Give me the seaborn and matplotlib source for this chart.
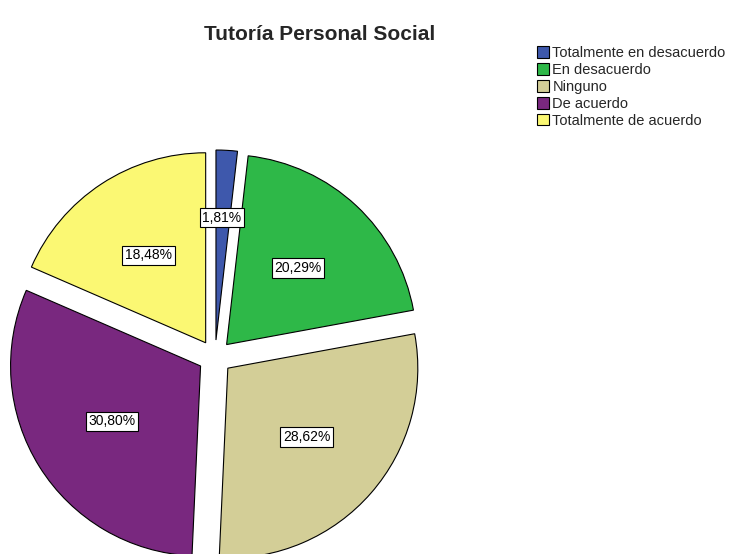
import matplotlib
matplotlib.use('Agg')
import matplotlib.pyplot as plt
import seaborn as sns

# Data
categories = ["Totalmente en desacuerdo", "En desacuerdo", "Ninguno",
              "De acuerdo", "Totalmente de acuerdo"]
percentages = [1.81, 20.29, 28.62, 30.80, 18.48]
colors = ["#3E58AC", "#2EB848", "#D3CE97", "#79287F", "#FBF873"]
title = "Tutoría Personal Social"

sns.set_theme(style="white")
plt.rcParams['font.family'] = ['Liberation Sans', 'DejaVu Sans']

fig = plt.figure(figsize=(7.3, 5.54), dpi=100)
ax = fig.add_axes([0, 0, 1, 1])

# explode is in data units here (axes spans the figure in pixels)
wedges, texts, autotexts = ax.pie(
    percentages,
    colors=sns.color_palette(colors),
    startangle=90,
    counterclock=False,
    explode=[17] * len(percentages),
    center=(215, 197),
    radius=190,
    autopct=lambda p: f"{p:.2f}%".replace(".", ","),
    pctdistance=0.55,
    wedgeprops=dict(edgecolor="black", linewidth=0.8),
    textprops=dict(fontsize=10, color="black"),
)
for t in autotexts:
    t.set_bbox(dict(boxstyle="square,pad=0.2", facecolor="white",
                    edgecolor="black", linewidth=0.8))
# the small blue slice label sits higher in the reference
x, y = autotexts[0].get_position()
autotexts[0].set_position((x, y + 18))

ax.set_xlim(0, 730)
ax.set_ylim(0, 554)
ax.set_aspect('equal')
ax.axis('off')

fig.text(320 / 730, 1 - 34 / 554, title, ha="center", va="center",
         fontsize=15, fontweight="bold")

leg = fig.legend(wedges, categories, loc="upper left",
                 bbox_to_anchor=(537 / 730, 1 - 46 / 554),
                 frameon=False, fontsize=10.5, handlelength=0.85,
                 handleheight=0.85, handletextpad=0.2, labelspacing=0.2,
                 borderpad=0, borderaxespad=0)

fig.savefig("out.png", dpi=100)
